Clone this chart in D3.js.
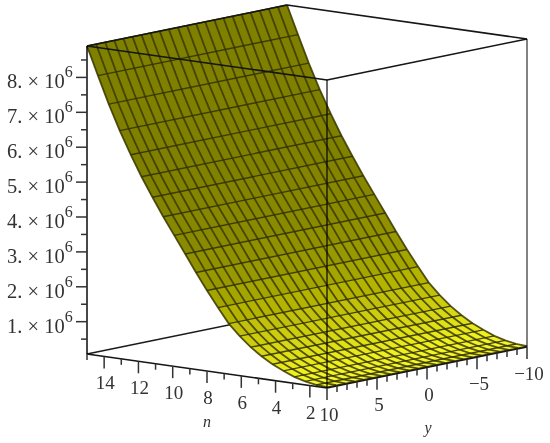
<!DOCTYPE html>
<html>
<head>
<meta charset="utf-8">
<script src="https://cdn.jsdelivr.net/npm/d3@7"></script>
<style>
html,body{margin:0;padding:0;background:#fff}
svg{display:block}
text{font-family:"Liberation Serif","Times New Roman",Times,serif;fill:#333}
</style>
</head>
<body>
<div id="chart"></div>
<script>
// Data
const nGrid = [1.00,1.64,2.27,2.91,3.55,4.18,4.82,5.45,6.09,6.73,7.36,8.00,8.64,9.27,9.91,10.55,11.18,11.82,12.45,13.09,13.73,14.36,15.00];
const yGrid = [10,9.09,8.18,7.27,6.36,5.45,4.55,3.64,2.73,1.82,0.91,0,-0.91,-1.82,-2.73,-3.64,-4.55,-5.45,-6.36,-7.27,-8.18,-9.09,-10];
const zMillions = [0.10,0.117,0.174,0.260,0.389,0.532,0.719,0.934,1.206,1.521,1.936,2.381,2.853,3.340,3.828,4.315,4.830,5.375,5.962,6.607,7.323,8.097,8.90];
const zMajorTicks = [1,2,3,4,5,6,7,8];
const zMinorTicks = [0.5,1.5,2.5,3.5,4.5,5.5,6.5,7.5,8.5];
const nMajorTicks = [14,12,10,8,6,4,2];
const nMinorTicks = [15,13,11,9,7,5,3];
const yMajorTicks = [10,5,0,-5,-10];
const yMinorTicks = [9,8,7,6,4,3,2,1,-1,-2,-3,-4,-6,-7,-8,-9];
const shadeDomain = [0.1,0.35,0.7,1.5,2.4,3.5,5.5];
const shadeStops = ['#f8f830','#eeee22','#dcdc16','#bcbc08','#9c9c00','#8a8a00','#7f7f00'];

const width = 550, height = 443;
const nMin = d3.min(nGrid), nMax = d3.max(nGrid);
const zBase = 0.074, zTop = d3.max(zMillions);

// Oblique projection of the plot box, built from linear scales
const origin = [327, 388];
const nToX = d3.scaleLinear().domain([nMin, nMax]).range([0, -240]);
const nToY = d3.scaleLinear().domain([nMin, nMax]).range([0, -34]);
const yToX = d3.scaleLinear().domain([10, -10]).range([0, 200]);
const yToY = d3.scaleLinear().domain([10, -10]).range([0, -41]);
const zToH = d3.scaleLinear().domain([zBase, zTop]).range([0, 308]);
const project = (n, y, z) => [origin[0] + nToX(n) + yToX(y), origin[1] + nToY(n) + yToY(y) - zToH(z)];

const shade = d3.scaleLinear().domain(shadeDomain).range(shadeStops).clamp(true);
const line = d3.line();

const svg = d3.select('#chart').append('svg').attr('width', width).attr('height', height);
const defs = svg.append('defs');
defs.append('filter').attr('id', 'soft').attr('x', '-5%').attr('y', '-5%').attr('width', '110%').attr('height', '110%')
  .append('feGaussianBlur').attr('stdDeviation', 0.45);

const root = svg.append('g').attr('filter', 'url(#soft)');

const seg = (a, b) => line([a, b]);
const [yFront, yBack] = [10, -10];

// Back and floor edges, behind the surface
const behind = root.append('g').attr('fill', 'none').attr('stroke', '#1a1a1a').attr('stroke-width', 1.5);
behind.append('path').attr('d', seg(project(nMax, yFront, zBase), project(nMax, yBack, zBase)));

// Surface patches
const faces = [];
d3.range(nGrid.length - 2, -1, -1).forEach(i => {
  d3.range(yGrid.length - 1).forEach(j => {
    faces.push({i, j});
  });
});
const faceColor = d => shade((zMillions[d.i] + zMillions[d.i + 1]) / 2);
root.append('g').selectAll('path').data(faces).join('path')
  .attr('d', d => line([
    project(nGrid[d.i], yGrid[d.j], zMillions[d.i]),
    project(nGrid[d.i], yGrid[d.j + 1], zMillions[d.i]),
    project(nGrid[d.i + 1], yGrid[d.j + 1], zMillions[d.i + 1]),
    project(nGrid[d.i + 1], yGrid[d.j], zMillions[d.i + 1])
  ]) + 'Z')
  .attr('fill', faceColor)
  .attr('stroke', faceColor)
  .attr('stroke-width', 0.4);

// Grid lines on the surface
const gridLayer = root.append('g').attr('fill', 'none').attr('stroke-linecap', 'butt');
gridLayer.selectAll('path.along').data(yGrid).join('path').attr('class', 'along')
  .attr('d', y => line(nGrid.map((n, i) => project(n, y, zMillions[i]))))
  .attr('stroke', '#3a3a00').attr('stroke-width', 1.8).attr('stroke-opacity', 0.85);
gridLayer.selectAll('path.across').data(nGrid).join('path').attr('class', 'across')
  .attr('d', (n, i) => seg(project(n, yFront, zMillions[i]), project(n, yBack, zMillions[i])))
  .attr('stroke', '#333300').attr('stroke-width', 1.4).attr('stroke-opacity', 0.9);

// Box edges in front of the surface
const box = root.append('g').attr('fill', 'none').attr('stroke', '#141414').attr('stroke-width', 1.5);
box.append('path').attr('d', seg(project(nMax, yFront, zTop), project(nMax, yBack, zTop)));
box.append('path').attr('d', seg(project(nMax, yBack, zTop), project(nMin, yBack, zTop)));
box.append('path').attr('d', seg(project(nMin, yBack, zTop), project(nMin, yFront, zTop)));
box.append('path').attr('d', seg(project(nMin, yFront, zTop), project(nMax, yFront, zTop)));
box.append('path').attr('d', seg(project(nMax, yFront, zBase), project(nMin, yFront, zBase)));
box.append('path').attr('d', seg(project(nMin, yFront, zBase), project(nMin, yBack, zBase)));

// Vertical edges
const verticals = root.append('g').attr('fill', 'none').attr('stroke', '#000').attr('stroke-width', 1.8);
[[nMax, yFront, 0.8], [nMin, yFront, 0.65], [nMin, yBack, 0.55]].forEach(([n, y, o]) => {
  verticals.append('path').attr('stroke-opacity', o).attr('d', seg(project(n, y, zBase), project(n, y, zTop)));
});

// Ticks
const ticks = root.append('g').attr('fill', 'none').attr('stroke', '#333').attr('stroke-width', 1.5);
const tickGroup = (data, len, at) => {
  data.forEach(v => {
    const [a, b] = at(v, len);
    ticks.append('path').attr('d', seg(a, b));
  });
};
const zTick = (m, len) => { const p = project(nMax, yFront, m); return [p, [p[0] - len, p[1]]]; };
const nTick = (n, len) => { const p = project(n, yFront, zBase); return [p, [p[0], p[1] + len]]; };
const yTick = (y, len) => { const p = project(nMin, y, zBase); return [p, [p[0], p[1] + len]]; };
tickGroup(zMajorTicks, 11, zTick);
tickGroup(zMinorTicks, 6, zTick);
tickGroup(nMajorTicks, 12, nTick);
tickGroup(nMinorTicks, 6, nTick);
tickGroup(yMajorTicks, 12, yTick);
tickGroup(yMinorTicks, 6, yTick);

// Labels
const labels = svg.append('g').attr('filter', 'url(#soft)');
zMajorTicks.forEach(m => {
  const p = project(nMax, yFront, m);
  const t = labels.append('text').attr('x', 7).attr('y', p[1] + 11).attr('font-size', 20.5);
  t.append('tspan').text(m + '. \u00d7 10');
  t.append('tspan').attr('dy', -11).attr('font-size', 16).text('6');
});
nMajorTicks.forEach(n => {
  const p = project(n, yFront, zBase);
  labels.append('text').attr('x', p[0] + 1).attr('y', p[1] + 33).attr('text-anchor', 'middle').attr('font-size', 19).text(n);
});
yMajorTicks.forEach(y => {
  const p = project(nMin, y, zBase);
  const s = y < 0 ? '\u2212' + Math.abs(y) : String(y);
  labels.append('text').attr('x', p[0] + 2).attr('y', p[1] + 33).attr('text-anchor', 'middle').attr('font-size', 19).text(s);
});
labels.append('text').attr('x', 207).attr('y', 427).attr('text-anchor', 'middle').attr('font-size', 16).attr('font-style', 'italic').text('n');
labels.append('text').attr('x', 428).attr('y', 433).attr('text-anchor', 'middle').attr('font-size', 16).attr('font-style', 'italic').text('y');
</script>
</body>
</html>
